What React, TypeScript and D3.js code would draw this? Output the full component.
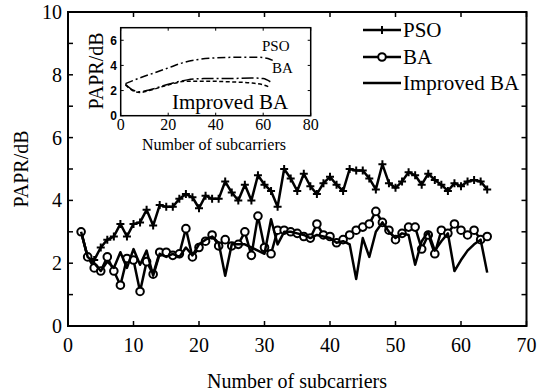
import { useEffect, useRef } from 'react'
import * as d3 from 'd3'

// main chart data
const subcarriers = [
  2, 3, 4, 5, 6, 7, 8, 9, 10, 11, 12, 13, 14, 15, 16, 17, 18, 19, 20, 21, 22,
  23, 24, 25, 26, 27, 28, 29, 30, 31, 32, 33, 34, 35, 36, 37, 38, 39, 40, 41,
  42, 43, 44, 45, 46, 47, 48, 49, 50, 51, 52, 53, 54, 55, 56, 57, 58, 59, 60,
  61, 62, 63, 64
]
const psoValues = [
  3.0, 2.2, 2.1, 2.5, 2.75, 2.85, 3.25, 2.85, 3.25, 3.3, 3.7, 3.2, 3.85, 3.8, 3.8, 4.05, 4.2, 4.1, 3.75, 4.15, 4.05,
  4.05, 4.6, 4.25, 4.0, 4.5, 4.0, 4.8, 4.5, 4.3, 3.8, 5.0, 4.7, 4.3, 4.85, 4.45, 4.2, 4.55, 4.75, 4.5,
  4.3, 5.0, 4.95, 4.95, 4.7, 4.35, 5.15, 4.55, 4.4, 4.6, 4.9, 4.8, 4.5, 4.85, 4.65, 4.5, 4.3, 4.55, 4.45,
  4.6, 4.65, 4.6, 4.35
]
const baValues = [
  3.0, 2.2, 1.85, 1.75, 2.2, 1.75, 1.3, 2.15, 2.1, 1.1, 2.05, 1.65, 2.35, 2.35, 2.25, 2.3, 3.1, 2.2, 2.5, 2.7, 2.9,
  2.55, 2.75, 2.55, 2.6, 3.0, 2.25, 3.5, 2.5, 2.3, 3.05, 3.05, 3.0, 2.95, 2.85, 2.8, 3.25, 2.9, 2.85, 2.65,
  2.75, 2.9, 3.05, 3.15, 3.25, 3.65, 3.3, 3.05, 2.75, 2.95, 3.15, 3.15, 2.45, 2.9, 2.3, 3.05, 2.95, 3.25, 3.05,
  2.9, 3.05, 2.75, 2.85
]
const improvedValues = [
  3.0, 2.2, 2.0, 1.75, 2.05, 1.85, 2.35, 1.85, 2.45, 1.95, 2.4, 1.6, 2.3, 2.2, 2.3, 2.2, 2.5, 2.25, 2.6, 2.75, 2.85,
  2.65, 1.6, 2.6, 2.6, 2.6, 2.5, 2.4, 2.3, 3.4, 2.6, 3.0, 3.0, 2.95, 2.9, 2.8, 2.9, 2.85, 2.8, 2.65,
  2.7, 2.6, 1.5, 2.8, 2.2, 3.0, 3.3, 3.0, 2.8, 2.95, 2.9, 1.95, 2.7, 3.0, 2.4, 2.7, 2.95, 1.75, 2.1,
  2.4, 2.6, 2.75, 1.7
]
const xTicks = [0, 10, 20, 30, 40, 50, 60, 70]
const yTicks = [0, 1, 2, 3, 4, 5, 6, 7, 8, 9, 10]
const yTickLabels = [0, 2, 4, 6, 8, 10]

// inset (smoothed trends)
const insetPsoX = [2, 8, 14, 20, 26, 32, 40, 50, 58, 62, 64]
const insetPsoY = [2.55, 3.0, 3.4, 3.8, 4.2, 4.45, 4.6, 4.65, 4.65, 4.55, 4.4]
const insetBaX = [2, 5, 8, 12, 20, 28, 35, 45, 55, 60, 63]
const insetBaY = [2.5, 2.05, 1.9, 2.05, 2.5, 2.85, 2.95, 2.95, 3.0, 2.95, 2.7]
const insetImpX = [2, 5, 8, 12, 20, 28, 35, 45, 55, 60, 63]
const insetImpY = [2.45, 2.0, 1.85, 2.0, 2.45, 2.75, 2.75, 2.7, 2.6, 2.45, 2.25]
const insetXTicks = [0, 20, 40, 60, 80]
const insetYTicks = [0, 2, 4, 6]

const legendLabels = ['PSO', 'BA', 'Improved BA']

const serif = '"Liberation Serif", "Times New Roman", serif'
const sans = '"Liberation Sans", Arial, sans-serif'

export default function App() {
  const svgRef = useRef<SVGSVGElement>(null)

  useEffect(() => {
    if (!svgRef.current) return
    const svg = d3.select(svgRef.current)
    svg.selectAll('*').remove()

    const x = d3.scaleLinear().domain([0, 70]).range([68, 526.5])
    const y = d3.scaleLinear().domain([0, 10]).range([326, 12])

    svg.append('rect').attr('width', 550).attr('height', 391).style('fill', '#fff')

    // ticks (inward, all sides)
    xTicks.forEach(t => {
      svg.append('line').attr('x1', x(t)).attr('x2', x(t)).attr('y1', 326).attr('y2', 321)
        .style('stroke', '#000').style('stroke-width', '1.5px')
      svg.append('line').attr('x1', x(t)).attr('x2', x(t)).attr('y1', 12).attr('y2', 17)
        .style('stroke', '#000').style('stroke-width', '1.5px')
      svg.append('text')
        .attr('x', x(t)).attr('y', 352)
        .attr('text-anchor', 'middle')
        .style('font-family', serif).style('font-size', '20px')
        .text(t)
    })
    yTicks.forEach(t => {
      svg.append('line').attr('x1', 68).attr('x2', 73).attr('y1', y(t)).attr('y2', y(t))
        .style('stroke', '#000').style('stroke-width', '1.5px')
      svg.append('line').attr('x1', 526.5).attr('x2', 521.5).attr('y1', y(t)).attr('y2', y(t))
        .style('stroke', '#000').style('stroke-width', '1.5px')
    })
    yTickLabels.forEach(t => {
      svg.append('text')
        .attr('x', 62).attr('y', y(t) + 7)
        .attr('text-anchor', 'end')
        .style('font-family', serif).style('font-size', '20px')
        .text(t)
    })

    svg.append('text')
      .attr('x', 297).attr('y', 388)
      .attr('text-anchor', 'middle')
      .style('font-family', serif).style('font-size', '20px')
      .text('Number of subcarriers')
    svg.append('text')
      .attr('transform', 'translate(28,169) rotate(-90)')
      .attr('text-anchor', 'middle')
      .style('font-family', serif).style('font-size', '20px')
      .text('PAPR/dB')

    // series
    const line = d3.line<number>()
      .x((_, i) => x(subcarriers[i]))
      .y(d => y(d))

    const drawSeries = (vals: number[]) =>
      svg.append('path').attr('d', line(vals))
        .style('fill', 'none').style('stroke', '#000')
        .style('stroke-width', '2.5px').style('stroke-linejoin', 'round')

    drawSeries(psoValues)
    psoValues.forEach((v, i) => {
      const cx = x(subcarriers[i]), cy = y(v)
      svg.append('path')
        .attr('d', `M${cx - 4},${cy}H${cx + 4}M${cx},${cy - 4}V${cy + 4}`)
        .style('stroke', '#000').style('stroke-width', '2px')
    })

    drawSeries(baValues)
    baValues.forEach((v, i) => {
      svg.append('circle')
        .attr('cx', x(subcarriers[i])).attr('cy', y(v)).attr('r', 3.8)
        .style('fill', '#fff').style('stroke', '#000').style('stroke-width', '2px')
    })

    drawSeries(improvedValues)

    // legend
    const legendY = [30, 57, 83]
    legendLabels.forEach((lab, i) => {
      const ly = legendY[i]
      svg.append('line').attr('x1', 363).attr('x2', 401).attr('y1', ly).attr('y2', ly)
        .style('stroke', '#000').style('stroke-width', '2.5px')
      if (i === 0) {
        svg.append('path')
          .attr('d', `M378,${ly}H386M382,${ly - 4}V${ly + 4}`)
          .style('stroke', '#000').style('stroke-width', '2px')
      } else if (i === 1) {
        svg.append('circle').attr('cx', 382).attr('cy', ly).attr('r', 3.8)
          .style('fill', '#fff').style('stroke', '#000').style('stroke-width', '2px')
      }
      svg.append('text')
        .attr('x', 403).attr('y', ly + 7)
        .style('font-family', serif).style('font-size', '21px')
        .text(lab)
    })

    // main frame
    svg.append('rect')
      .attr('x', 68).attr('y', 12).attr('width', 526.5 - 68).attr('height', 314)
      .style('fill', 'none').style('stroke', '#000').style('stroke-width', '2px')

    // inset
    const ix = d3.scaleLinear().domain([0, 80]).range([120.7, 310.7])
    const iy = d3.scaleLinear().domain([0, 7]).range([115.7, 27.7])

    svg.append('rect')
      .attr('x', 120.7).attr('y', 27.7).attr('width', 190).attr('height', 88)
      .style('fill', '#fff').style('stroke', '#000').style('stroke-width', '1.5px')

    insetXTicks.forEach(t => {
      svg.append('line').attr('x1', ix(t)).attr('x2', ix(t)).attr('y1', 115.7).attr('y2', 112.7)
        .style('stroke', '#000').style('stroke-width', '1px')
      svg.append('line').attr('x1', ix(t)).attr('x2', ix(t)).attr('y1', 27.7).attr('y2', 30.7)
        .style('stroke', '#000').style('stroke-width', '1px')
      svg.append('text')
        .attr('x', ix(t)).attr('y', 130)
        .attr('text-anchor', 'middle')
        .style('font-family', serif).style('font-size', '16px')
        .text(t)
    })
    insetYTicks.forEach(t => {
      svg.append('line').attr('x1', 120.7).attr('x2', 123.7).attr('y1', iy(t)).attr('y2', iy(t))
        .style('stroke', '#000').style('stroke-width', '1px')
      svg.append('line').attr('x1', 310.7).attr('x2', 307.7).attr('y1', iy(t)).attr('y2', iy(t))
        .style('stroke', '#000').style('stroke-width', '1px')
      svg.append('text')
        .attr('x', 117).attr('y', iy(t) + 4.5)
        .attr('text-anchor', 'end')
        .style('font-family', sans).style('font-weight', 'bold').style('font-size', '12px')
        .text(t)
    })

    svg.append('text')
      .attr('x', 214).attr('y', 150)
      .attr('text-anchor', 'middle')
      .style('font-family', serif).style('font-size', '16px')
      .text('Number of subcarriers')
    svg.append('text')
      .attr('transform', 'translate(103,71) rotate(-90)')
      .attr('text-anchor', 'middle')
      .style('font-family', serif).style('font-size', '20px')
      .text('PAPR/dB')

    const insetLine = (xs: number[], ys: number[], dash: string) => {
      const gen = d3.line<number>()
        .x((_, i) => ix(xs[i]))
        .y(d => iy(d))
        .curve(d3.curveMonotoneX)
      svg.append('path').attr('d', gen(ys))
        .style('fill', 'none').style('stroke', '#000')
        .style('stroke-width', '1.5px').style('stroke-dasharray', dash)
    }
    insetLine(insetPsoX, insetPsoY, '8,3,2,3')
    insetLine(insetBaX, insetBaY, '12,3,2,3')
    insetLine(insetImpX, insetImpY, '4,2.5')

    svg.append('text').attr('x', 262).attr('y', 51)
      .style('font-family', serif).style('font-size', '15px').text('PSO')
    svg.append('text').attr('x', 272).attr('y', 73)
      .style('font-family', serif).style('font-size', '15px').text('BA')
    svg.append('text').attr('x', 172).attr('y', 109)
      .style('font-family', serif).style('font-size', '21px').text('Improved BA')
  }, [])

  return (
    <svg
      ref={svgRef}
      width={550}
      height={391}
      style={{ position: 'absolute', left: 0, top: 0 }}
    />
  )
}
